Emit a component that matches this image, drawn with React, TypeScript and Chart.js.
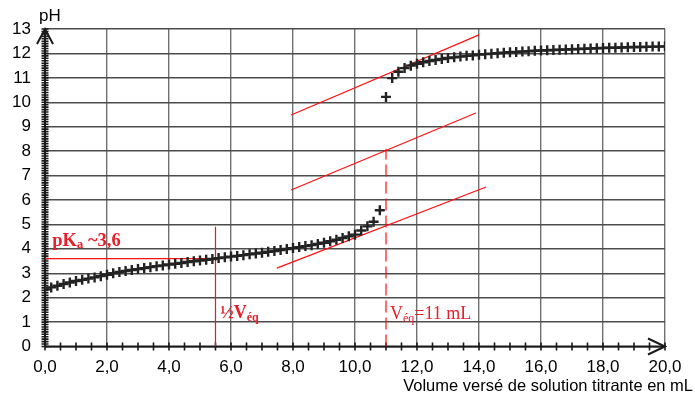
import React, { useEffect, useRef } from 'react';
import { Chart, registerables } from 'chart.js';

Chart.register(...registerables);

// Volume of titrant added (mL)
const volumes = [
  0.0, 0.2, 0.4, 0.6, 0.8, 1.0, 1.2, 1.4, 1.6, 1.8,
  2.0, 2.2, 2.4, 2.6, 2.8, 3.0, 3.2, 3.4, 3.6, 3.8,
  4.0, 4.2, 4.4, 4.6, 4.8, 5.0, 5.2, 5.4, 5.6, 5.8,
  6.0, 6.2, 6.4, 6.6, 6.8, 7.0, 7.2, 7.4, 7.6, 7.8,
  8.0, 8.2, 8.4, 8.6, 8.8, 9.0, 9.2, 9.4, 9.6, 9.8,
  10.0, 10.2, 10.4, 10.6, 10.8, 11.0, 11.2, 11.4, 11.6, 11.8,
  12.0, 12.2, 12.4, 12.6, 12.8, 13.0, 13.2, 13.4, 13.6, 13.8,
  14.0, 14.2, 14.4, 14.6, 14.8, 15.0, 15.2, 15.4, 15.6, 15.8,
  16.0, 16.2, 16.4, 16.6, 16.8, 17.0, 17.2, 17.4, 17.6, 17.8,
  18.0, 18.2, 18.4, 18.6, 18.8, 19.0, 19.2, 19.4, 19.6, 19.8,
  20.0,
];

// Measured pH
const phValues = [
  2.34, 2.42, 2.49, 2.56, 2.62, 2.68, 2.73, 2.78, 2.83, 2.88,
  2.94, 3.0, 3.05, 3.09, 3.13, 3.17, 3.21, 3.25, 3.29, 3.32,
  3.36, 3.39, 3.42, 3.46, 3.49, 3.52, 3.55, 3.58, 3.62, 3.65,
  3.68, 3.71, 3.74, 3.78, 3.81, 3.84, 3.88, 3.91, 3.95, 3.99,
  4.03, 4.07, 4.11, 4.15, 4.2, 4.25, 4.31, 4.37, 4.44, 4.51,
  4.58, 4.75, 4.92, 5.11, 5.58, 10.22, 10.99, 11.25, 11.4, 11.5,
  11.58, 11.64, 11.69, 11.73, 11.77, 11.81, 11.84, 11.87, 11.9, 11.92,
  11.95, 11.97, 11.99, 12.01, 12.03, 12.05, 12.06, 12.08, 12.09, 12.11,
  12.12, 12.13, 12.14, 12.15, 12.16, 12.17, 12.18, 12.19, 12.2, 12.21,
  12.22, 12.23, 12.23, 12.24, 12.25, 12.26, 12.26, 12.27, 12.28, 12.28,
  12.29,
];

// Construction lines (tangents method), in data units
const tangentUpper = [{ x: 7.94, y: 9.48 }, { x: 14.0, y: 12.76 }];
const tangentMiddle = [{ x: 7.94, y: 6.41 }, { x: 13.9, y: 9.56 }];
const tangentLower = [{ x: 7.48, y: 3.21 }, { x: 14.23, y: 6.53 }];
const pKaLine = [{ x: 0, y: 3.6 }, { x: 5.5, y: 3.6 }];
const halfVeqLine = [{ x: 5.5, y: 0 }, { x: 5.5, y: 4.9 }];
const veqLine = [{ x: 11, y: 0 }, { x: 11, y: 8.1 }];

const xMin = 0, xMax = 20, xStep = 2, xMinorStep = 0.5;
const yMin = 0, yMax = 13, yStep = 1, yMinorStep = 0.1;

const xTitle = 'Volume versé de solution titrante en mL';
const yTitle = 'pH';

const RED_LINE = '#ff1010';
const RED_TEXT = '#e8202a';

function drawParts(ctx: CanvasRenderingContext2D, x: number, y: number, parts: { t: string; f: string; dy: number }[]) {
  let cx = x;
  for (const p of parts) {
    ctx.font = p.f;
    ctx.fillText(p.t, cx, y + p.dy);
    cx += ctx.measureText(p.t).width;
  }
}

const axesPlugin = {
  id: 'customAxes',
  beforeDatasetsDraw(chart: any) {
    const { ctx, scales } = chart;
    const xs = scales.x, ys = scales.y;
    const x0 = xs.getPixelForValue(xMin);
    const y0 = ys.getPixelForValue(yMin);
    const xe = xs.getPixelForValue(xMax);
    const yt = ys.getPixelForValue(yMax);
    ctx.save();
    ctx.strokeStyle = '#1a1a1a';
    ctx.lineWidth = 2;
    ctx.beginPath();
    ctx.moveTo(x0, y0); ctx.lineTo(xe, y0);
    ctx.moveTo(x0, y0); ctx.lineTo(x0, yt);
    ctx.stroke();
    ctx.lineWidth = 1.6;
    ctx.beginPath();
    const nx = Math.round((xMax - xMin) / xMinorStep);
    for (let i = 0; i <= nx; i++) {
      const px = xs.getPixelForValue(xMin + i * xMinorStep);
      ctx.moveTo(px, y0 - 4); ctx.lineTo(px, y0 + 4);
    }
    const ny = Math.round((yMax - yMin) / yMinorStep);
    for (let i = 0; i <= ny; i++) {
      const py = ys.getPixelForValue(yMin + i * yMinorStep);
      ctx.moveTo(x0 - 3.5, py); ctx.lineTo(x0 + 3.5, py);
    }
    ctx.stroke();
    ctx.lineWidth = 2;
    ctx.beginPath();
    ctx.moveTo(xe - 17, y0 - 8); ctx.lineTo(xe, y0); ctx.lineTo(xe - 17, y0 + 8);
    ctx.moveTo(x0 - 8, yt + 15); ctx.lineTo(x0, yt); ctx.lineTo(x0 + 8, yt + 15);
    ctx.stroke();
    ctx.restore();
  },
  afterDatasetsDraw(chart: any) {
    const { ctx, scales } = chart;
    const xs = scales.x, ys = scales.y;
    ctx.save();
    ctx.textBaseline = 'alphabetic';
    ctx.textAlign = 'left';
    // axis titles
    ctx.fillStyle = '#000';
    ctx.font = '17px "Liberation Sans", Arial, sans-serif';
    ctx.fillText(yTitle, 39, 21);
    ctx.font = '16.5px "Liberation Sans", Arial, sans-serif';
    ctx.textAlign = 'right';
    ctx.fillText(xTitle, 693, 391);
    ctx.textAlign = 'left';
    // annotations
    ctx.fillStyle = RED_TEXT;
    const serif = '"Liberation Serif", "Times New Roman", serif';
    drawParts(ctx, xs.getPixelForValue(0.23), ys.getPixelForValue(4.12), [
      { t: 'pK', f: `bold 18.5px ${serif}`, dy: 0 },
      { t: 'a', f: `bold 13px ${serif}`, dy: 2 },
      { t: ' ~3,6', f: `bold 18.5px ${serif}`, dy: 0 },
    ]);
    drawParts(ctx, xs.getPixelForValue(5.65), ys.getPixelForValue(1.17), [
      { t: '½V', f: `bold 18px ${serif}`, dy: 0 },
      { t: 'éq', f: `bold 12px ${serif}`, dy: 3 },
    ]);
    drawParts(ctx, xs.getPixelForValue(11.13), ys.getPixelForValue(1.13), [
      { t: 'V', f: `18px ${serif}`, dy: 0 },
      { t: 'éq', f: `12px ${serif}`, dy: 3 },
      { t: '=11 mL', f: `18px ${serif}`, dy: 0 },
    ]);
    ctx.restore();
  },
};

const redLine = (data: { x: number; y: number }[], dash: number[] = []) => ({
  data,
  showLine: true,
  borderColor: RED_LINE,
  backgroundColor: RED_LINE,
  borderWidth: 1.2,
  borderDash: dash,
  pointRadius: 0,
  pointHoverRadius: 0,
});

export default function App() {
  const ref = useRef<HTMLCanvasElement | null>(null);
  useEffect(() => {
    if (!ref.current) return;
    const curve = volumes.map((v, i) => ({ x: v, y: phValues[i] }));
    const chart = new Chart(ref.current, {
      type: 'scatter',
      data: {
        datasets: [
          {
            data: curve,
            pointStyle: 'cross',
            pointRadius: 5,
            pointBorderWidth: 2.4,
            borderColor: '#222',
            backgroundColor: '#222',
            showLine: false,
          } as any,
          redLine(tangentUpper),
          redLine(tangentMiddle),
          redLine(tangentLower),
          redLine(pKaLine),
          redLine(halfVeqLine),
          redLine(veqLine, [12, 5]),
        ],
      },
      options: {
        responsive: false,
        animation: false,
        devicePixelRatio: 1,
        layout: { padding: { top: 29, right: 30, left: 0, bottom: 0 } },
        plugins: { legend: { display: false }, tooltip: { enabled: false } },
        events: [],
        scales: {
          x: {
            type: 'linear',
            min: xMin,
            max: xMax,
            afterFit: (s: any) => { s.height = 50.5; },
            border: { display: false },
            grid: { color: '#707070', lineWidth: 1.4, drawTicks: false },
            ticks: {
              stepSize: xStep,
              padding: 11,
              color: '#000',
              font: { family: '"Liberation Sans", Arial, sans-serif', size: 17 },
              callback: (v: any) => Number(v).toFixed(1).replace('.', ','),
            },
          },
          y: {
            type: 'linear',
            min: yMin,
            max: yMax,
            afterFit: (s: any) => { s.width = 45; },
            border: { display: false },
            grid: { color: '#4c4c4c', lineWidth: 1.4, drawTicks: false },
            ticks: {
              stepSize: yStep,
              padding: 14,
              color: '#000',
              font: { family: '"Liberation Sans", Arial, sans-serif', size: 17 },
            },
          },
        },
      } as any,
      plugins: [axesPlugin],
    });
    return () => chart.destroy();
  }, []);
  return (
    <div style={{ position: 'absolute', left: 0, top: 0, width: 695, height: 397, background: '#fff' }}>
      <canvas ref={ref} width={695} height={397} style={{ width: 695, height: 397, display: 'block' }} />
    </div>
  );
}
